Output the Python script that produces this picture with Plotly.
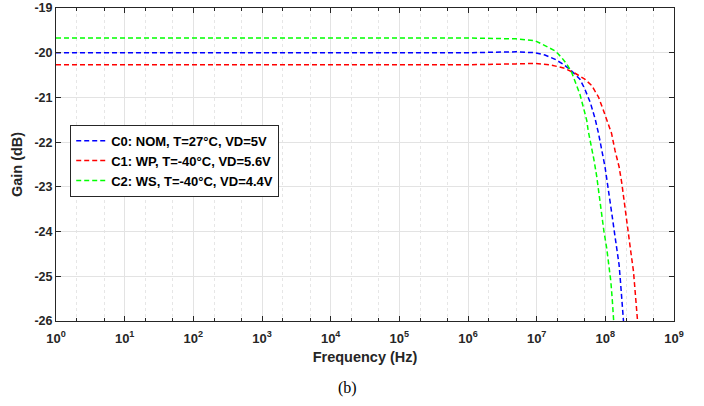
import plotly.graph_objects as go

# Frequencies (Hz) and gains (dB)
freq_c0 = [1, 1e3, 1e6, 5e6, 9.44e6, 1.318e7, 1.862e7, 2.455e7, 3.236e7, 4.266e7, 5.012e7, 6.026e7,
           7.079e7, 7.943e7, 8.913e7, 9.886e7, 1.072e8, 1.175e8, 1.259e8, 1.349e8, 1.462e8, 1.585e8,
           1.660e8, 1.758e8, 1.841e8, 1.88e8]
gain_c0 = [-20.0, -20.0, -20.0, -19.98, -20.0, -20.05, -20.15, -20.26, -20.41, -20.59, -20.81, -21.11,
           -21.47, -21.80, -22.18, -22.55, -22.92, -23.29, -23.66, -23.99, -24.37, -24.74,
           -25.11, -25.56, -25.93, -26.2]

freq_c1 = [1, 1e3, 1e6, 5e6, 9.44e6, 1.549e7, 2.455e7, 3.631e7, 5.012e7, 6.310e7, 7.943e7, 9.333e7,
           1.072e8, 1.175e8, 1.230e8, 1.380e8, 1.585e8, 1.738e8, 1.862e8, 1.995e8, 2.138e8, 2.344e8,
           2.570e8, 2.692e8, 2.884e8, 2.951e8, 3.02e8]
gain_c1 = [-20.27, -20.27, -20.27, -20.25, -20.24, -20.27, -20.34, -20.46, -20.59, -20.73, -20.99, -21.28,
           -21.52, -21.72, -21.80, -22.18, -22.55, -22.92, -23.29, -23.66, -24.07, -24.44,
           -24.89, -25.26, -25.63, -25.93, -26.2]

freq_c2 = [1, 1e3, 1e6, 5e6, 9.44e6, 1.318e7, 1.862e7, 2.317e7, 2.754e7, 3.236e7, 3.802e7, 4.266e7,
           4.786e7, 5.370e7, 5.623e7, 6.310e7, 6.839e7, 7.499e7, 8.128e7, 8.913e7, 9.550e7, 1.047e8,
           1.122e8, 1.202e8, 1.259e8, 1.303e8, 1.35e8]
gain_c2 = [-19.67, -19.67, -19.67, -19.69, -19.73, -19.84, -19.96, -20.11, -20.26, -20.44, -20.70, -20.93,
           -21.22, -21.52, -21.74, -22.10, -22.40, -22.77, -23.22, -23.66, -24.0, -24.37,
           -24.74, -25.11, -25.50, -25.93, -26.2]

names = ["C0: NOM, T=27°C, VD=5V", "C1: WP, T=-40°C, VD=5.6V", "C2: WS, T=-40°C, VD=4.4V"]
colors = ["#0000ff", "#ff0000", "#00ff00"]

x_tickvals = [10**k for k in range(10)]
x_ticktext = [f"10<sup>{k}</sup>" for k in range(10)]
y_tickvals = [-26, -25, -24, -23, -22, -21, -20, -19]
y_ticktext = [str(v) for v in y_tickvals]

fig = go.Figure()
for f, g, n, c in zip([freq_c0, freq_c1, freq_c2], [gain_c0, gain_c1, gain_c2], names, colors):
    fig.add_trace(go.Scatter(x=f, y=g, mode="lines", name=n,
                             line=dict(color=c, width=1.5, dash="5px,3px")))

fam = "Liberation Sans, Arial"
fig.update_layout(
    width=704, height=406,
    margin=dict(l=56, r=30, t=8, b=85),
    plot_bgcolor="white", paper_bgcolor="white",
    showlegend=True,
    legend=dict(x=0.023, y=0.627, xanchor="left", yanchor="top",
                bgcolor="white", bordercolor="#262626", borderwidth=1,
                font=dict(family=fam, size=13, color="#000000", weight="bold"),
                tracegroupgap=0, itemwidth=30),
    xaxis=dict(type="log", range=[0, 9], automargin=False,
               tickvals=x_tickvals, ticktext=x_ticktext,
               tickfont=dict(family=fam, size=13, color="#262626", weight="bold"),
               ticklabelstandoff=5,
               title=dict(text="Frequency (Hz)", standoff=7,
                          font=dict(family=fam, size=14.5, color="#262626", weight="bold")),
               showline=True, linecolor="#262626", linewidth=1, mirror="allticks",
               ticks="inside", ticklen=5, tickcolor="#262626",
               showgrid=True, gridcolor="#e3e3e3", gridwidth=1,
               minor=dict(ticks="inside", ticklen=3, tickcolor="#262626",
                          showgrid=True, gridcolor="#e6e6e6", griddash="dot", gridwidth=1),
               zeroline=False),
    yaxis=dict(range=[-26, -19], tickvals=y_tickvals, ticktext=y_ticktext, automargin=False,
               tickfont=dict(family=fam, size=12.5, color="#262626", weight="bold"),
               title=dict(text="Gain (dB)", standoff=8,
                          font=dict(family=fam, size=14.5, color="#262626", weight="bold")),
               showline=True, linecolor="#262626", linewidth=1, mirror="allticks",
               ticks="inside", ticklen=5, tickcolor="#262626",
               showgrid=True, gridcolor="#e3e3e3", gridwidth=1,
               zeroline=False),
)

fig.add_annotation(text="(b)", xref="paper", yref="paper", x=0.471, y=-0.213,
                   xanchor="center", yanchor="middle", showarrow=False,
                   font=dict(family="Liberation Serif, Times New Roman", size=16, color="#000000"))

fig.write_html("out.html", config={"displayModeBar": False},
               post_script="document.body.style.margin='0px';")
